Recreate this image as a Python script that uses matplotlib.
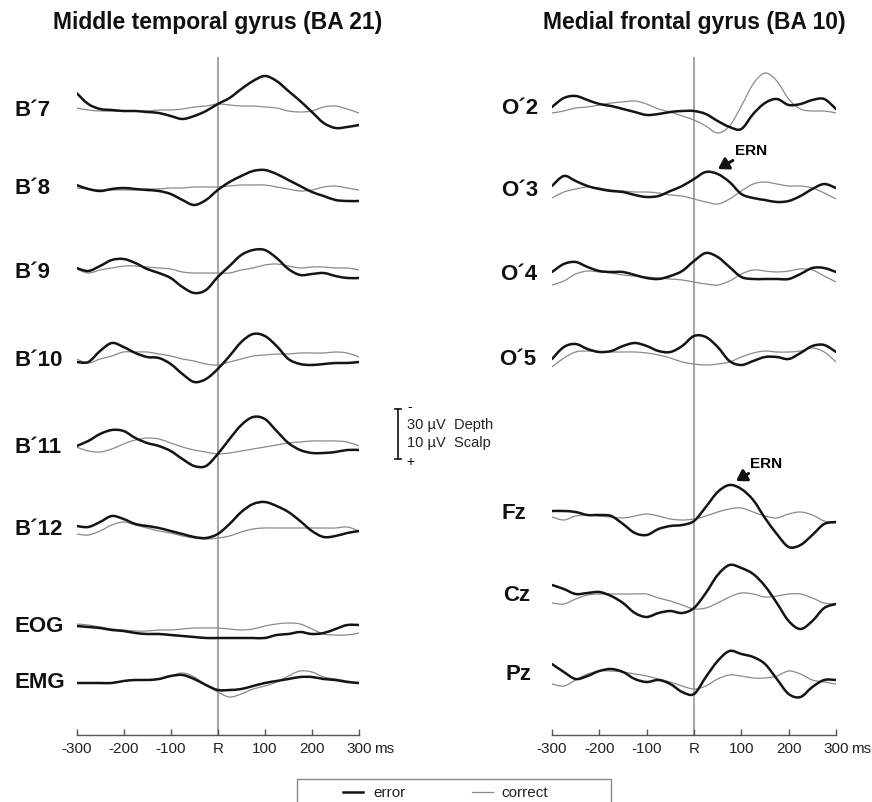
import numpy as np
import matplotlib
matplotlib.use("Agg")
import matplotlib.pyplot as plt
from matplotlib.patches import Rectangle, PathPatch
from matplotlib.path import Path

plt.rcParams['font.family'] = ['Liberation Sans', 'DejaVu Sans']

# time axis (ms, response locked), amplitudes in display units (up = negative)
TIMES = np.arange(-300, 301, 25)
TICKS = [-300, -200, -100, 0, 100, 200, 300]
TICK_LABELS = ['-300', '-200', '-100', 'R', '100', '200', '300']

# Middle temporal gyrus (BA 21)
B7_ERROR = [16, 5, 0, -1, -2, -2, -3, -4, -7, -10, -7, -2, 5, 11, 20, 28, 33, 28, 18, 8, -3, -14, -19, -18, -16]
B7_CORRECT = [1, -1, -2, -2, -2, -2, -2, -1, -1, 0, 2, 3, 5, 4, 3, 3, 2, 1, -2, -3, -2, 2, 3, 0, -4]
B8_ERROR = [3, -1, -3, -1, 0, -1, -2, -3, -6, -12, -17, -12, -2, 6, 12, 17, 18, 14, 8, 2, -4, -8, -12, -13, -13]
B8_CORRECT = [0, -1, -2, -2, -2, -2, -1, -1, 0, 0, 1, 1, 1, 2, 3, 3, 3, 1, -1, -3, -2, 1, 2, 0, -2]
B9_ERROR = [4, 1, 6, 12, 13, 9, 3, -1, -6, -15, -21, -18, -5, 6, 17, 22, 22, 14, 3, -3, -2, -1, -4, -6, -6]
B9_CORRECT = [3, -1, 2, 4, 6, 6, 5, 4, 3, 0, -1, -1, -1, -1, 2, 4, 7, 8, 6, 4, 5, 5, 4, 4, 2]
B10_ERROR = [-2, -2, 9, 17, 13, 7, 3, 2, -4, -14, -22, -19, -9, 4, 18, 26, 24, 14, 1, -4, -5, -4, -3, -3, -2]
B10_CORRECT = [1, -3, 1, 4, 8, 8, 8, 6, 4, 1, -1, -4, -5, -2, 1, 4, 5, 6, 6, 7, 7, 7, 8, 7, 3]
B11_ERROR = [1, 6, 13, 17, 16, 9, 4, 1, -4, -12, -19, -19, -7, 8, 22, 30, 28, 16, 4, -3, -6, -6, -5, -3, -3]
B11_CORRECT = [0, -4, -5, -2, 3, 7, 9, 8, 4, 0, -3, -5, -7, -6, -4, -2, 0, 2, 4, 5, 6, 6, 6, 5, 1]
B12_ERROR = [3, 2, 7, 13, 10, 5, 3, 1, -2, -5, -8, -9, -5, 5, 17, 25, 27, 23, 17, 8, -2, -8, -7, -4, -2]
B12_CORRECT = [-5, -6, -2, 4, 7, 4, 1, -2, -4, -7, -9, -10, -9, -7, -3, 0, 1, 1, 1, 1, 1, 1, 1, 2, -2]
EOG_ERROR = [0, -1, -2, -4, -5, -7, -8, -8, -9, -10, -11, -12, -12, -12, -12, -12, -12, -9, -8, -6, -8, -7, -3, 1, 1]
EOG_CORRECT = [2, 1, -1, -3, -4, -5, -5, -4, -4, -3, -2, -2, -2, -3, -4, -3, 0, 2, 3, 2, -3, -8, -9, -9, -7]
EMG_ERROR = [-1, -1, -1, -1, 1, 2, 2, 3, 6, 7, 3, -3, -8, -8, -7, -4, -1, 1, 3, 5, 5, 3, 2, 0, -1]
EMG_CORRECT = [-1, -1, -1, -1, 1, 2, 2, 3, 6, 9, 5, -3, -10, -15, -12, -7, -4, 0, 6, 11, 10, 5, 3, 1, -1]

# Medial frontal gyrus (BA 10) and scalp
O2_ERROR = [1, 10, 12, 8, 4, 2, -1, -4, -7, -6, -4, -3, -3, -6, -13, -19, -21, -6, 5, 9, 3, 4, 8, 9, -1]
O2_CORRECT = [-5, -3, 0, 1, 3, 5, 6, 7, 4, -1, -4, -8, -12, -18, -25, -18, 2, 24, 35, 27, 9, -1, -3, -3, -5]
O3_ERROR = [3, 13, 8, 3, 0, -2, -3, -6, -8, -7, -2, 3, 10, 17, 15, 7, -5, -9, -11, -13, -12, -7, 0, 5, 1]
O3_CORRECT = [-9, -3, 0, 2, 1, -1, -2, -3, -3, -4, -6, -7, -10, -13, -15, -10, -2, 5, 7, 5, 3, 3, 1, -4, -10]
O4_ERROR = [2, 10, 12, 7, 3, 2, 2, -1, -4, -5, -2, 3, 13, 21, 17, 7, -3, -5, -5, -5, -5, 0, 6, 6, 2]
O4_CORRECT = [-11, -7, 0, 3, 2, 1, -1, -2, -3, -4, -5, -6, -8, -10, -11, -7, 0, 4, 3, 2, 3, 5, 4, -2, -8]
O5_ERROR = [0, 12, 15, 10, 7, 8, 13, 16, 13, 8, 7, 13, 23, 22, 12, -2, -6, -2, 2, 2, 0, 6, 13, 14, 7]
O5_CORRECT = [-8, 1, 7, 8, 7, 7, 7, 7, 6, 4, 1, -3, -5, -6, -5, -3, 2, 6, 8, 7, 7, 8, 11, 7, -3]
FZ_ERROR = [2, 2, 1, -2, -2, -3, -11, -20, -22, -16, -13, -12, -8, 6, 21, 28, 24, 13, -5, -21, -34, -32, -22, -11, -9]
FZ_CORRECT = [-4, -7, -3, -2, -3, -4, -5, -3, -1, -3, -6, -7, -6, -3, 1, 4, 5, 1, -3, -5, -1, 1, -2, -8, -10]
CZ_ERROR = [10, 6, 1, 2, 3, -1, -8, -18, -22, -18, -16, -18, -13, 2, 20, 30, 27, 21, 9, -8, -26, -34, -26, -13, -9]
CZ_CORRECT = [-8, -9, -4, 0, 1, 1, 1, 1, 1, -3, -6, -10, -14, -13, -8, -2, 2, 1, -2, -1, 1, 1, -3, -8, -9]
PZ_ERROR = [10, 2, -5, -2, 3, 5, 2, -5, -8, -6, -10, -18, -20, -3, 13, 23, 20, 17, 10, -5, -20, -23, -13, -6, -6]
PZ_CORRECT = [-10, -12, -6, 0, 3, 3, 2, 0, -2, -5, -8, -12, -15, -12, -5, -1, -2, -4, -4, -2, 3, 0, -6, -8, -10]

LEFT_NAMES = ['B\u00b47', 'B\u00b48', 'B\u00b49', 'B\u00b410', 'B\u00b411', 'B\u00b412', 'EOG', 'EMG']
RIGHT_NAMES = ['O\u00b42', 'O\u00b43', 'O\u00b44', 'O\u00b45', 'Fz', 'Cz', 'Pz']

# layout: pixel rows of each channel baseline
W, H = 872, 803
LEFT_ROWS = [110, 189, 273, 361, 448, 530, 627, 683]
RIGHT_ROWS = [109, 190, 275, 360, 514, 596, 675]

left = list(zip(LEFT_NAMES, LEFT_ROWS,
                [B7_ERROR, B8_ERROR, B9_ERROR, B10_ERROR, B11_ERROR, B12_ERROR, EOG_ERROR, EMG_ERROR],
                [B7_CORRECT, B8_CORRECT, B9_CORRECT, B10_CORRECT, B11_CORRECT, B12_CORRECT, EOG_CORRECT, EMG_CORRECT]))
right = list(zip(RIGHT_NAMES, RIGHT_ROWS,
                 [O2_ERROR, O3_ERROR, O4_ERROR, O5_ERROR, FZ_ERROR, CZ_ERROR, PZ_ERROR],
                 [O2_CORRECT, O3_CORRECT, O4_CORRECT, O5_CORRECT, FZ_CORRECT, CZ_CORRECT, PZ_CORRECT]))


def smooth_path(x, y):
    # draw a smooth curve through the samples (Catmull-Rom as cubic Bezier segments)
    pts = np.column_stack([x, y]).astype(float)
    ext = np.vstack([pts[0], pts, pts[-1]])
    verts = [pts[0]]
    codes = [Path.MOVETO]
    for i in range(len(pts) - 1):
        p0, p1, p2, p3 = ext[i], ext[i + 1], ext[i + 2], ext[i + 3]
        verts += [p1 + (p2 - p0) / 6, p2 - (p3 - p1) / 6, p2]
        codes += [Path.CURVE4] * 3
    return Path(verts, codes)


fig = plt.figure(figsize=(W / 100, H / 100), dpi=100)

# overlay in pixel coords for titles, labels, scale bar and legend
ov = fig.add_axes([0, 0, 1, 1])
ov.set_xlim(0, W)
ov.set_ylim(H, 0)
ov.axis('off')


def panel(x0, x1, channels):
    ax = fig.add_axes([x0 / W, (H - 736) / H, (x1 - x0) / W, (736 - 58) / H])
    ax.patch.set_alpha(0)
    ax.set_xlim(-300, 300)
    ax.set_ylim(736, 58)
    for s in ('top', 'right', 'left'):
        ax.spines[s].set_visible(False)
    ax.spines['bottom'].set_color('#555555')
    ax.spines['bottom'].set_linewidth(1.0)
    ax.set_yticks([])
    ax.set_xticks(TICKS)
    ax.set_xticklabels(TICK_LABELS)
    ax.tick_params(axis='x', direction='in', length=4, width=1, color='#555555',
                   pad=4, labelsize=11, labelcolor='#222222')
    ax.annotate('ms', xy=(300, 0), xycoords=('data', 'axes fraction'), xytext=(11, -4),
                textcoords='offset points', ha='left', va='top', fontsize=11, color='#222222')
    ax.axvline(0, color='#8c8c8c', lw=1.1, zorder=1)
    for name, row, err, cor in channels:
        ax.add_patch(PathPatch(smooth_path(TIMES, row - np.array(cor)), fill=False,
                               edgecolor='#8a8a8a', lw=0.9, zorder=2))
        ax.add_patch(PathPatch(smooth_path(TIMES, row - np.array(err)), fill=False,
                               edgecolor='#141414', lw=1.8, zorder=3,
                               joinstyle='round', capstyle='round'))
    return ax


ax_l = panel(76.5, 359, left)
ax_r = panel(552, 836, right)

ov.text(218, 22, 'Middle temporal gyrus (BA 21)', ha='center', va='center',
        fontsize=16.5, fontweight='bold', color='#111111')
ov.text(694, 22, 'Medial frontal gyrus (BA 10)', ha='center', va='center',
        fontsize=16.5, fontweight='bold', color='#111111')

for name, row, _, _ in left:
    ov.text(14, row, name, ha='left', va='center', fontsize=16, fontweight='bold', color='#111111')
right_x = [538, 538, 537, 536, 526, 530, 531]
for (name, row, _, _), x in zip(right, right_x):
    ov.text(x, row, name, ha='right', va='center', fontsize=16, fontweight='bold', color='#111111')

# scale bar
ov.plot([398, 398], [410, 460], color='#111111', lw=1.2)
ov.plot([395, 401], [410, 410], color='#111111', lw=1.2)
ov.plot([395, 401], [460, 460], color='#111111', lw=1.2)
ov.text(407, 407, '-', ha='left', va='center', fontsize=10)
ov.text(406, 462, '+', ha='left', va='center', fontsize=10)
ov.text(407, 425, '30 \u00b5V  Depth', ha='left', va='center', fontsize=10.5, color='#222222')
ov.text(407, 443, '10 \u00b5V  Scalp', ha='left', va='center', fontsize=10.5, color='#222222')

# ERN arrows
arrow = dict(arrowstyle='-|>,head_width=0.35,head_length=0.55', color='#111111', lw=2.2,
             shrinkA=1, shrinkB=0)
ov.annotate('ERN', xy=(718, 170), xytext=(735, 151), ha='left', va='center',
            fontsize=11, fontweight='bold', arrowprops=arrow)
ov.annotate('ERN', xy=(736, 482), xytext=(750, 464), ha='left', va='center',
            fontsize=11, fontweight='bold', arrowprops=arrow)

# legend box (cut by bottom edge)
ov.add_patch(Rectangle((297, 780), 314, 40, fill=False, edgecolor='#8a8a8a', lw=1.0, clip_on=False))
ov.plot([343, 363], [793, 793], color='#141414', lw=1.8)
ov.text(373, 793, 'error', ha='left', va='center', fontsize=11, color='#222222')
ov.plot([472, 493], [793, 793], color='#8a8a8a', lw=0.9)
ov.text(501, 793, 'correct', ha='left', va='center', fontsize=11, color='#222222')

fig.savefig('out.png', dpi=100)
